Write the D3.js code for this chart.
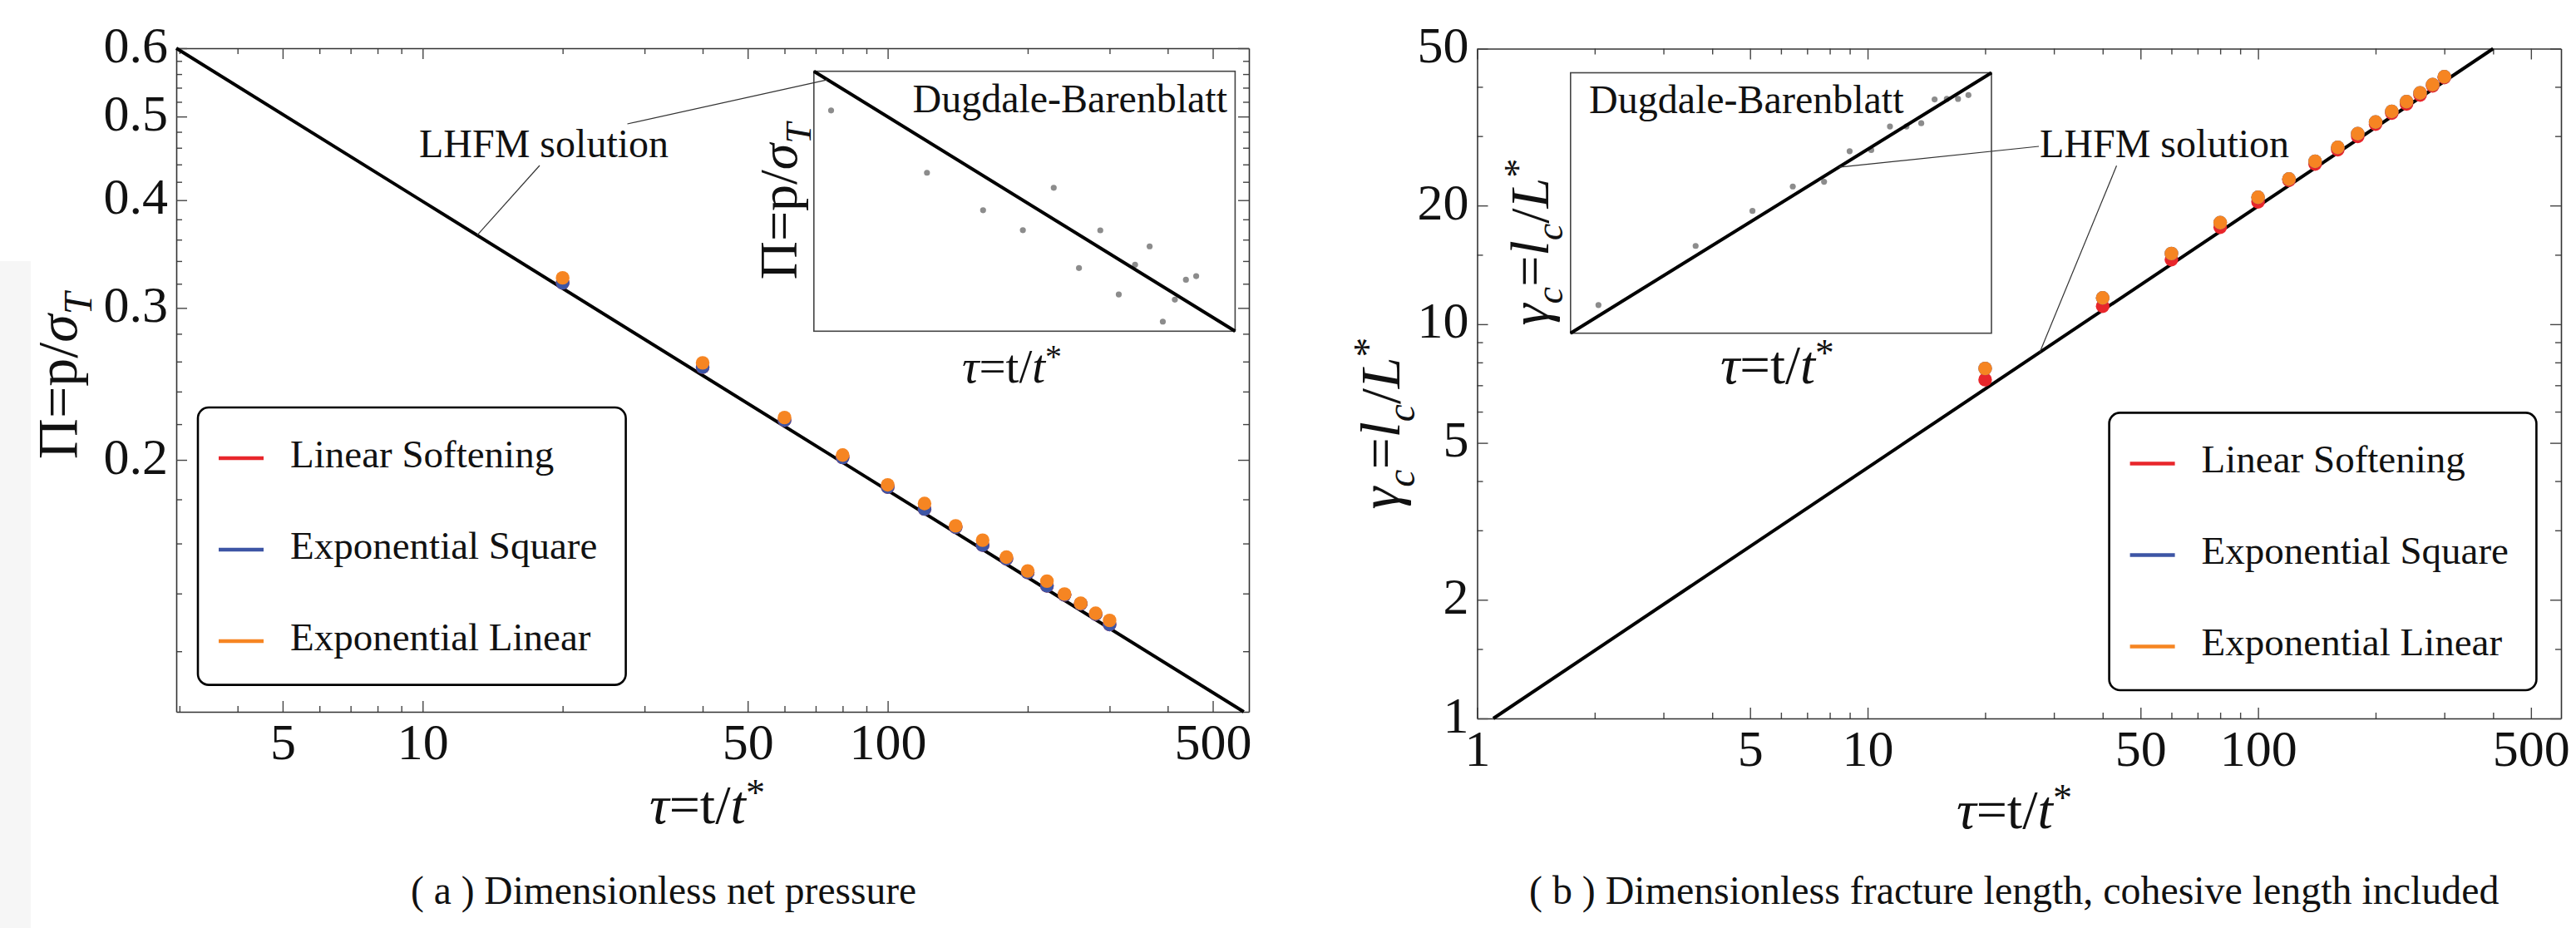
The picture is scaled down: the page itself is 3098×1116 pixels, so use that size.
<!DOCTYPE html>
<html>
<head>
<meta charset="utf-8">
<script src="https://cdn.jsdelivr.net/npm/d3@7"></script>
<style>
  html, body { margin: 0; padding: 0; background: #fff; }
  svg text { font-family: "Liberation Serif", "Times New Roman", serif; fill: #111; }
</style>
</head>
<body>
<svg id="fig" width="3098" height="1116"></svg>
<script>
// ---- data ----
var tau = [20, 40, 60, 80, 100, 120, 140, 160, 180, 200, 220, 240, 260, 280, 300];

// (a) dimensionless net pressure
var piLinearSoftening  = [0.3208, 0.2562, 0.2224, 0.2013, 0.1860, 0.1754, 0.1671, 0.1593, 0.1536, 0.1481, 0.1429, 0.1395, 0.1362, 0.1325, 0.1289];
var piExpSquare        = [0.3208, 0.2562, 0.2224, 0.2013, 0.1860, 0.1754, 0.1671, 0.1593, 0.1536, 0.1481, 0.1429, 0.1395, 0.1362, 0.1325, 0.1289];
var piExpLinear        = [0.3251, 0.2591, 0.2239, 0.2026, 0.1871, 0.1780, 0.1677, 0.1614, 0.1543, 0.1487, 0.1447, 0.1398, 0.1364, 0.1328, 0.1303];

// (b) dimensionless fracture length
var gammaLinearSoftening = [7.23, 11.11, 14.58, 17.62, 20.44, 23.19, 25.48, 27.72, 29.96, 32.17, 34.31, 36.21, 38.13, 40.23, 42.23];
var gammaExpSquare       = [7.72, 11.66, 15.11, 18.10, 20.98, 23.35, 25.89, 28.08, 30.44, 32.58, 34.65, 36.68, 38.62, 40.54, 42.43];
var gammaExpLinear       = [7.72, 11.66, 15.11, 18.10, 20.98, 23.35, 25.89, 28.08, 30.44, 32.58, 34.65, 36.68, 38.62, 40.54, 42.43];

// LHFM solution (straight on log-log axes, end points)
var lhfmTauA = [2.953, 583];
var lhfmPiA = [0.6, 0.1021];
var lhfmTauB = [1.1, 400];
var lhfmGammaB = [1, 50];

// insets: Dugdale-Barenblatt
var insetTau = [20, 40, 60, 80, 100, 120, 140, 160, 180, 200, 220, 240, 260, 280];
var insetPiDB = [0.2851, 0.2235, 0.1931, 0.1786, 0.2108, 0.1541, 0.1785, 0.1390, 0.1561, 0.1677, 0.1250, 0.1362, 0.1472, 0.1493];
var insetGammaDB = [7.49, 11.80, 15.45, 18.64, 19.33, 24.45, 24.67, 29.57, 29.57, 30.32, 36.40, 36.57, 36.57, 37.66];
var insetLineTauA = [17.66, 371];
var insetLinePiA = [0.3322, 0.1204];
var insetLineTauB = [16.39, 330];
var insetLineGammaB = [6.03, 44.7];

// ticks
var xMajorA = [5, 10, 50, 100, 500];
var xMinorA = [3, 4, 6, 7, 8, 9, 20, 30, 40, 60, 70, 80, 90, 200, 300, 400];
var yMajorA = [0.2, 0.3, 0.4, 0.5, 0.6];
var yMinorA = [0.12, 0.14, 0.16, 0.18, 0.22, 0.24, 0.26, 0.28, 0.32, 0.34, 0.36, 0.38, 0.42, 0.44, 0.46, 0.48, 0.52, 0.54, 0.56, 0.58];
var xMajorB = [1, 5, 10, 50, 100, 500];
var xMinorB = [2, 3, 4, 6, 7, 8, 9, 20, 30, 40, 60, 70, 80, 90, 200, 300, 400];
var yMajorB = [1, 2, 5, 10, 20, 50];
var yMinorB = [1.5, 3, 4, 6, 7, 8, 9, 15, 30, 40];

var seriesNames = ['Linear Softening', 'Exponential Square', 'Exponential Linear'];
var seriesColors = ['#e8262b', '#3d55a5', '#f68522'];

var serif = '"Liberation Serif", "Times New Roman", serif';
var svg = d3.select('#fig');

// faint strip at the left edge of the scan
svg.append('rect').attr('x', 0).attr('y', 314).attr('width', 37).attr('height', 802).attr('fill', '#f6f6f6');

// scales
var xA = d3.scaleLog().domain([2.953, 598]).range([212, 1502]);
var yA = d3.scaleLog().domain([0.1021, 0.6]).range([856, 58]);
var xB = d3.scaleLog().domain([1, 597]).range([1776.5, 3080]);
var yB = d3.scaleLog().domain([1, 50]).range([864, 58.5]);

var xIa = d3.scaleLog().domain([17.66, 371]).range([978.8, 1485.4]);
var yIa = d3.scaleLog().domain([0.1204, 0.3322]).range([398.3, 85.7]);
var xIb = d3.scaleLog().domain([16.39, 330]).range([1888.8, 2395]);
var yIb = d3.scaleLog().domain([6.03, 44.7]).range([400.7, 87.5]);

function styleAxis(g, size) {
  g.attr('font-family', serif).attr('font-size', size);
  g.select('.domain').attr('stroke', '#333').attr('stroke-width', 1.6);
  g.selectAll('.tick line').attr('stroke', '#444').attr('stroke-width', 1.4);
  g.selectAll('.tick text').attr('fill', '#111');
}

function frame(x, y, xMajor, xMinor, yMajor, yMinor, yFmt) {
  var x0 = x.range()[0], x1 = x.range()[1];
  var y0 = y.range()[0], y1 = y.range()[1];
  var g = svg.append('g');

  // minor ticks first
  [[d3.axisBottom, y0, 'h'], [d3.axisTop, y1, 'h']].forEach(function (a) {
    g.append('g').attr('transform', 'translate(0,' + a[1] + ')')
      .call(a[0](x).tickValues(xMinor).tickSize(-7).tickFormat(''))
      .call(function (s) { s.select('.domain').remove(); styleAxis(s, 10); });
  });
  [[d3.axisLeft, x0], [d3.axisRight, x1]].forEach(function (a) {
    g.append('g').attr('transform', 'translate(' + a[1] + ',0)')
      .call(a[0](y).tickValues(yMinor).tickSize(-7).tickFormat(''))
      .call(function (s) { s.select('.domain').remove(); styleAxis(s, 10); });
  });

  // major ticks + frame
  var bottom = g.append('g').attr('transform', 'translate(0,' + y0 + ')')
    .call(d3.axisBottom(x).tickValues(xMajor).tickSizeInner(-13).tickSizeOuter(0).tickFormat(d3.format('d')));
  styleAxis(bottom, 62);
  bottom.selectAll('.tick text').attr('y', 57).attr('dy', null);

  var top = g.append('g').attr('transform', 'translate(0,' + y1 + ')')
    .call(d3.axisTop(x).tickValues(xMajor).tickSizeInner(-13).tickSizeOuter(0).tickFormat(''));
  styleAxis(top, 10);

  var left = g.append('g').attr('transform', 'translate(' + x0 + ',0)')
    .call(d3.axisLeft(y).tickValues(yMajor).tickSizeInner(-13).tickSizeOuter(0).tickPadding(10).tickFormat(yFmt));
  styleAxis(left, 62);
  left.selectAll('.tick text').attr('y', 16).attr('dy', null);

  var right = g.append('g').attr('transform', 'translate(' + x1 + ',0)')
    .call(d3.axisRight(y).tickValues(yMajor).tickSizeInner(-13).tickSizeOuter(0).tickFormat(''));
  styleAxis(right, 10);
}

// text with italic / sub / sup parts
function rich(parent, parts, size) {
  var t = parent.append('text').attr('font-size', size);
  var shift = 0;
  parts.forEach(function (p) {
    var s = t.append('tspan').text(p.t);
    if (p.it) s.attr('font-style', 'italic');
    var target = p.sub ? 0.26 * size : (p.sup ? -0.32 * size : 0);
    if (p.sub || p.sup) s.attr('font-size', size * 0.7);
    if (target !== shift) { s.attr('dy', target - shift); shift = target; }
  });
  return t;
}

var tauLabel = [{ t: '\u03C4', it: true }, { t: '=t/' }, { t: 't', it: true }, { t: '*', sup: true }];
var piLabel = [{ t: '\u03A0=p/' }, { t: '\u03C3', it: true }, { t: 'T', it: true, sub: true }];
var gammaLabel = [{ t: '\u03B3', it: true }, { t: 'c', it: true, sub: true }, { t: '=' }, { t: 'l', it: true },
  { t: 'c', it: true, sub: true }, { t: '/' }, { t: 'L', it: true }, { t: '*', sup: true }];

function xLabel(parts, x, y, size) {
  rich(svg, parts, size).attr('x', x).attr('y', y);
}
function yLabel(parts, x, y, size) {
  rich(svg, parts, size).attr('text-anchor', 'middle')
    .attr('transform', 'translate(' + x + ',' + y + ') rotate(-90)');
}

// log-log straight line through two end points
function onLine(ts, vs, t) {
  var f = Math.log(t / ts[0]) / Math.log(ts[1] / ts[0]);
  return Math.exp(Math.log(vs[0]) + f * Math.log(vs[1] / vs[0]));
}

function lineOf(xs, ys, ts, vs, w) {
  svg.append('path')
    .datum(ts.map(function (t, i) { return [t, vs[i]]; }))
    .attr('fill', 'none').attr('stroke', '#000').attr('stroke-width', w)
    .attr('d', d3.line().x(function (d) { return xs(d[0]); }).y(function (d) { return ys(d[1]); }));
}

function inset(box, xs, ys, lt, lv, pt, pv) {
  svg.append('rect')
    .attr('x', xs.range()[0]).attr('y', ys.range()[1])
    .attr('width', xs.range()[1] - xs.range()[0]).attr('height', ys.range()[0] - ys.range()[1])
    .attr('fill', '#fff').attr('stroke', '#444').attr('stroke-width', 1.6);
  svg.append('g').selectAll('circle')
    .data(pt.map(function (t, i) { return [t, pv[i]]; }))
    .enter().append('circle')
    .attr('cx', function (d) { return xs(d[0]); })
    .attr('cy', function (d) { return ys(d[1]); })
    .attr('r', 3.6).attr('fill', '#8c8c8c');
  lineOf(xs, ys, lt, lv, 4);
}

function points(xs, ys, series) {
  series.forEach(function (vals, k) {
    svg.append('g').selectAll('circle')
      .data(tau.map(function (t, i) { return [t, vals[i]]; }))
      .enter().append('circle')
      .attr('cx', function (d) { return xs(d[0]); })
      .attr('cy', function (d) { return ys(d[1]); })
      .attr('r', 8.2).attr('fill', seriesColors[k]);
  });
}

function legend(x, y, w, h) {
  svg.append('rect').attr('x', x).attr('y', y).attr('width', w).attr('height', h)
    .attr('rx', 13).attr('fill', '#fff').attr('stroke', '#000').attr('stroke-width', 2.6);
  var rows = svg.append('g').selectAll('g').data(seriesNames).enter().append('g')
    .attr('transform', function (d, i) { return 'translate(' + x + ',' + (y + 61 + i * 110) + ')'; });
  rows.append('line').attr('x1', 25).attr('x2', 79)
    .attr('stroke', function (d, i) { return seriesColors[i]; }).attr('stroke-width', 4.5);
  rows.append('text').attr('x', 111).attr('y', 11).attr('font-size', 47).text(function (d) { return d; });
}

function leader(x1, y1, x2, y2) {
  svg.append('line').attr('x1', x1).attr('y1', y1).attr('x2', x2).attr('y2', y2)
    .attr('stroke', '#333').attr('stroke-width', 1.2);
}

// ---------- panel (a) ----------
frame(xA, yA, xMajorA, xMinorA, yMajorA, yMinorA, d3.format('.1f'));
lineOf(xA, yA, lhfmTauA, lhfmPiA, 4);
points(xA, yA, [piLinearSoftening, piExpSquare, piExpLinear]);
inset('a', xIa, yIa, insetLineTauA, insetLinePiA, insetTau, insetPiDB);
svg.append('text').attr('x', 1476).attr('y', 135).attr('text-anchor', 'end').attr('font-size', 48).text('Dugdale-Barenblatt');
xLabel(tauLabel, 1157, 460, 57);
yLabel(piLabel, 958, 242, 64);
legend(238, 490, 514.6, 333.6);
svg.append('text').attr('x', 504).attr('y', 188.6).attr('font-size', 48).text('LHFM solution');
leader(754.5, 149, xIa(19.5), yIa(onLine(insetLineTauA, insetLinePiA, 19.5)));
leader(649, 199, xA(13.1), yA(onLine(lhfmTauA, lhfmPiA, 13.1)));
xLabel(tauLabel, 781, 990, 66);
yLabel(piLabel, 92, 452, 68);
svg.append('text').attr('x', 494).attr('y', 1087).attr('font-size', 47.5).text('( a ) Dimensionless net pressure');

// ---------- panel (b) ----------
frame(xB, yB, xMajorB, xMinorB, yMajorB, yMinorB, d3.format('d'));
lineOf(xB, yB, lhfmTauB, lhfmGammaB, 4);
points(xB, yB, [gammaLinearSoftening, gammaExpSquare, gammaExpLinear]);
inset('b', xIb, yIb, insetLineTauB, insetLineGammaB, insetTau, insetGammaDB);
svg.append('text').attr('x', 1911).attr('y', 135.5).attr('font-size', 48).text('Dugdale-Barenblatt');
xLabel(tauLabel, 2069, 461, 65);
yLabel(gammaLabel, 1862, 291, 66);
legend(2536.6, 496.4, 513.8, 333.6);
svg.append('text').attr('x', 2453).attr('y', 189).attr('font-size', 48).text('LHFM solution');
leader(2452, 176, xIb(111), yIb(onLine(insetLineTauB, insetLineGammaB, 111)));
leader(2545.5, 199.3, xB(27.6), yB(onLine(lhfmTauB, lhfmGammaB, 27.6)));
xLabel(tauLabel, 2353, 996, 66);
yLabel(gammaLabel, 1683, 509, 68);
svg.append('text').attr('x', 1839).attr('y', 1087).attr('font-size', 47.9)
  .text('( b ) Dimensionless fracture length, cohesive length included');
</script>
</body>
</html>
